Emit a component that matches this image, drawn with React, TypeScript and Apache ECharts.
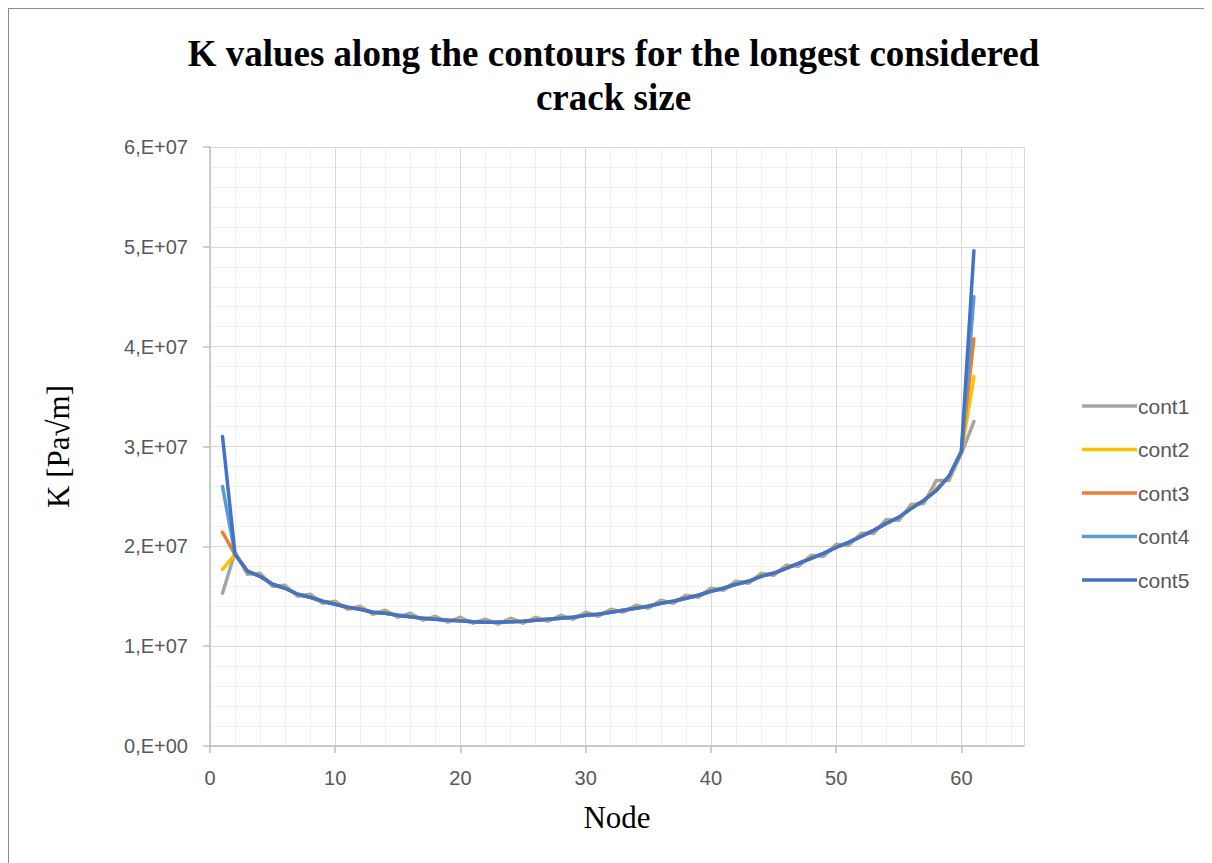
import React, { useEffect, useRef } from "react";
import * as echarts from "echarts";

const seriesNames = ["cont1", "cont2", "cont3", "cont4", "cont5"];
const seriesColors = ["#A5A5A5", "#FFC000", "#ED7D31", "#5B9BD5", "#4472C4"];

const nodes = [
  1, 2, 3, 4, 5, 6, 7, 8, 9, 10, 11, 12, 13, 14, 15, 16, 17, 18, 19, 20,
  21, 22, 23, 24, 25, 26, 27, 28, 29, 30, 31, 32, 33, 34, 35, 36, 37, 38, 39, 40,
  41, 42, 43, 44, 45, 46, 47, 48, 49, 50, 51, 52, 53, 54, 55, 56, 57, 58, 59, 60, 61,
];

// values in units of 1e6 Pa√m
const cont1 = [
  15.3, 19.4, 17.2, 17.3, 16.0, 16.1, 15.0, 15.2, 14.3, 14.5,
  13.7, 14.0, 13.2, 13.6, 12.9, 13.3, 12.6, 13.0, 12.4, 12.9,
  12.3, 12.7, 12.2, 12.8, 12.3, 12.9, 12.5, 13.1, 12.7, 13.4,
  13.0, 13.7, 13.4, 14.1, 13.8, 14.6, 14.3, 15.1, 14.9, 15.8,
  15.6, 16.5, 16.3, 17.3, 17.1, 18.1, 18.0, 19.1, 19.0, 20.2,
  20.1, 21.3, 21.3, 22.7, 22.6, 24.2, 24.3, 26.6, 26.6, 29.3, 32.5,
];
const cont2 = [
  17.7, 19.2, 17.45, 17.1, 16.15, 15.9, 15.15, 15.0, 14.45, 14.3,
  13.85, 13.8, 13.35, 13.4, 13.05, 13.05, 12.75, 12.8, 12.55, 12.65,
  12.4, 12.5, 12.35, 12.55, 12.45, 12.7, 12.65, 12.9, 12.85, 13.2,
  13.15, 13.5, 13.55, 13.9, 13.95, 14.4, 14.45, 14.9, 15.05, 15.6,
  15.75, 16.3, 16.45, 17.1, 17.25, 17.9, 18.25, 18.9, 19.25, 20.0,
  20.35, 21.1, 21.55, 22.4, 22.85, 23.9, 24.55, 25.8, 26.9, 29.4, 37.0,
];
const cont3 = [
  21.4, 19.2, 17.5, 17.0, 16.2, 15.8, 15.2, 14.9, 14.5, 14.2,
  13.9, 13.7, 13.4, 13.3, 13.1, 12.95, 12.8, 12.7, 12.6, 12.55,
  12.45, 12.4, 12.4, 12.45, 12.5, 12.6, 12.7, 12.8, 12.9, 13.1,
  13.2, 13.4, 13.6, 13.8, 14.0, 14.3, 14.5, 14.8, 15.1, 15.5,
  15.8, 16.2, 16.5, 17.0, 17.3, 17.8, 18.3, 18.8, 19.3, 19.9,
  20.4, 21.0, 21.6, 22.3, 22.9, 23.8, 24.6, 25.6, 27.0, 29.5, 40.8,
];
const cont4 = [
  26.0, 19.2, 17.5, 17.0, 16.2, 15.8, 15.2, 14.9, 14.5, 14.2,
  13.9, 13.7, 13.4, 13.3, 13.1, 12.95, 12.8, 12.7, 12.6, 12.55,
  12.45, 12.4, 12.4, 12.45, 12.5, 12.6, 12.7, 12.8, 12.9, 13.1,
  13.2, 13.4, 13.6, 13.8, 14.0, 14.3, 14.5, 14.8, 15.1, 15.5,
  15.8, 16.2, 16.5, 17.0, 17.3, 17.8, 18.3, 18.8, 19.3, 19.9,
  20.4, 21.0, 21.6, 22.3, 22.9, 23.8, 24.6, 25.6, 27.0, 29.5, 45.0,
];
const cont5 = [
  31.0, 19.2, 17.5, 17.0, 16.2, 15.8, 15.2, 14.9, 14.5, 14.2,
  13.9, 13.7, 13.4, 13.3, 13.1, 12.95, 12.8, 12.7, 12.6, 12.55,
  12.45, 12.4, 12.4, 12.45, 12.5, 12.6, 12.7, 12.8, 12.9, 13.1,
  13.2, 13.4, 13.6, 13.8, 14.0, 14.3, 14.5, 14.8, 15.1, 15.5,
  15.8, 16.2, 16.5, 17.0, 17.3, 17.8, 18.3, 18.8, 19.3, 19.9,
  20.4, 21.0, 21.6, 22.3, 22.9, 23.8, 24.6, 25.6, 27.0, 29.5, 49.6,
];

const seriesValues = [cont1, cont2, cont3, cont4, cont5];
const valueScale = 1e6;

const yTickValues = [0, 1e7, 2e7, 3e7, 4e7, 5e7, 6e7];
const yTickLabels = ["0,E+00", "1,E+07", "2,E+07", "3,E+07", "4,E+07", "5,E+07", "6,E+07"];

const titleText = "K values along the contours for the longest considered\ncrack size";
const xName = "Node";
const yName = "K [Pa√m]";

export default function App() {
  const ref = useRef<HTMLDivElement>(null);

  useEffect(() => {
    if (!ref.current) return;
    const chart = echarts.init(ref.current, undefined, { renderer: "svg" });
    const tickColor = "#595959";
    const option = {
      animation: false,
      backgroundColor: "#ffffff",
      title: {
        text: titleText,
        left: "center",
        top: 17,
        textStyle: {
          fontFamily: "Liberation Serif",
          fontWeight: "bold",
          fontSize: 37,
          lineHeight: 44,
          color: "#000000",
        },
      },
      legend: {
        orient: "vertical",
        left: 1068,
        top: 381,
        icon: "rect",
        itemWidth: 55,
        itemHeight: 3.5,
        itemGap: 21.5,
        data: seriesNames,
        textStyle: {
          fontFamily: "Liberation Sans",
          fontSize: 21,
          lineHeight: 22,
          color: tickColor,
          padding: [0, 0, 0, -4],
        },
      },
      grid: {
        left: 201,
        top: 138,
        width: 814,
        height: 599,
        containLabel: false,
      },
      xAxis: {
        type: "value",
        min: 0,
        max: 65,
        interval: 10,
        name: xName,
        nameLocation: "middle",
        nameGap: 56,
        nameTextStyle: {
          fontFamily: "Liberation Serif",
          fontSize: 31,
          color: "#000000",
        },
        axisLine: { show: true, onZero: false, lineStyle: { color: "#BFBFBF", width: 1.5 } },
        axisTick: { show: true, length: 7, lineStyle: { color: "#BFBFBF", width: 1.5 } },
        minorTick: { show: false, splitNumber: 5 },
        axisLabel: {
          margin: 22,
          fontFamily: "Liberation Sans",
          fontSize: 20,
          color: tickColor,
          showMaxLabel: false,
        },
        splitLine: { show: true, lineStyle: { color: "#D9D9D9", width: 1 } },
        minorSplitLine: { show: true, lineStyle: { color: "#F0F0F0", width: 1 } },
      },
      yAxis: {
        type: "value",
        min: 0,
        max: 6e7,
        interval: 1e7,
        name: yName,
        nameLocation: "middle",
        nameRotate: 90,
        nameGap: 136,
        nameTextStyle: {
          fontFamily: "Liberation Serif",
          fontSize: 31,
          color: "#000000",
        },
        axisLine: { show: true, lineStyle: { color: "#BFBFBF", width: 1.5 } },
        axisTick: { show: true, length: 7, lineStyle: { color: "#BFBFBF", width: 1.5 } },
        minorTick: { show: false, splitNumber: 5 },
        axisLabel: {
          margin: 22,
          fontFamily: "Liberation Sans",
          fontSize: 20,
          color: tickColor,
          formatter: (v: number) => {
            const i = yTickValues.indexOf(v);
            return i >= 0 ? yTickLabels[i] : "";
          },
        },
        splitLine: { show: true, lineStyle: { color: "#D9D9D9", width: 1 } },
        minorSplitLine: { show: true, lineStyle: { color: "#F0F0F0", width: 1 } },
      },
      series: seriesNames.map((name, si) => ({
        name,
        type: "line",
        symbol: "none",
        showSymbol: false,
        smooth: false,
        color: seriesColors[si],
        lineStyle: { color: seriesColors[si], width: 3.5, cap: "round", join: "round" },
        data: nodes.map((n, i) => [n, seriesValues[si][i] * valueScale]),
      })),
    };
    chart.setOption(option as any);
    return () => chart.dispose();
  }, []);

  return (
    <div
      style={{
        width: 1210,
        height: 860,
        borderLeft: "1px solid #8C8C8C",
        borderTop: "1px solid #8C8C8C",
        boxSizing: "border-box",
        background: "#ffffff",
      }}
    >
      <div ref={ref} style={{ width: 1209, height: 859 }} />
    </div>
  );
}
